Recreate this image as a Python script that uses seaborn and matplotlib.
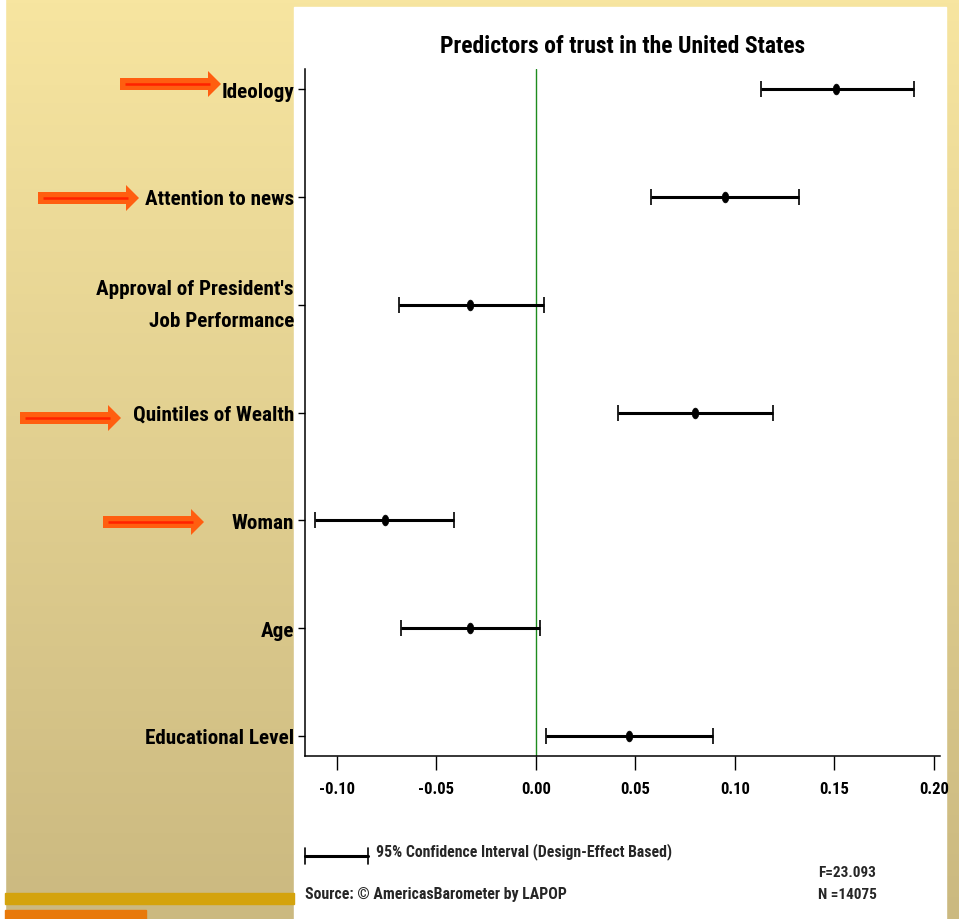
import numpy as np
import matplotlib.pyplot as plt
import seaborn as sns
import pandas as pd
from matplotlib import font_manager
from matplotlib.path import Path
from matplotlib.patches import Rectangle, FancyArrow
from matplotlib.ticker import FormatStrFormatter

# values
predictors = [
    "Ideology",
    "Attention to news",
    "Approval of President's\nJob Performance",
    "Quintiles of Wealth",
    "Woman",
    "Age",
    "Educational Level",
]
coef = [0.151, 0.095, -0.033, 0.080, -0.076, -0.033, 0.047]
ci_low = [0.113, 0.058, -0.069, 0.041, -0.111, -0.068, 0.005]
ci_high = [0.190, 0.132, 0.004, 0.119, -0.041, 0.002, 0.089]
x_ticks = [-0.10, -0.05, 0.00, 0.05, 0.10, 0.15, 0.20]
highlighted = ["Ideology", "Attention to news", "Quintiles of Wealth", "Woman"]

title = "Predictors of trust in the United States"
ci_note = "95% Confidence Interval (Design-Effect Based)"
source_note = "Source: \u00a9 AmericasBarometer by LAPOP"
stats_note = "F=23.093\nN =14075"

# pick a narrow face if one is around
installed = {f.name for f in font_manager.fontManager.ttflist}
narrow = [f for f in ["Roboto Condensed", "Liberation Sans Narrow",
                      "Liberation Sans"] if f in installed]

sns.set_style("white")
plt.rcParams["font.family"] = narrow[:1] + ["DejaVu Sans"]
plt.rcParams["axes.unicode_minus"] = False
WEIGHT = "bold"

df = pd.DataFrame({"predictor": predictors, "coef": coef,
                   "lo": ci_low, "hi": ci_high})

W, H = 959, 920
fig = plt.figure(figsize=(W / 100, H / 100), dpi=100)

# slide background in pixel coordinates
bg = fig.add_axes([0, 0, 1, 1], zorder=0)
top_col = np.array([247, 229, 160]) / 255
bot_col = np.array([203, 185, 128]) / 255
t = np.linspace(0, 1, 256)[:, None, None]
grad = (top_col * (1 - t) + bot_col * t) * np.ones((1, 2, 1))
bg.imshow(grad, extent=[0, W, H, 0], aspect="auto")
bg.set_xlim(0, W)
bg.set_ylim(H, 0)
bg.axis("off")
bg.add_patch(Rectangle((0, 0), 5, H, color="white"))
bg.add_patch(Rectangle((294, 8), 652, H - 8, color="white"))
bg.add_patch(Rectangle((5, 894), 289, 11, color="#D4A30C"))
bg.add_patch(Rectangle((5, 911), 141, 9, color="#E8790B"))

# orange arrows pointing at the highlighted predictors
arrows = {"Ideology": (120, 85), "Attention to news": (38, 199),
          "Quintiles of Wealth": (20, 419), "Woman": (103, 523)}
for name in highlighted:
    x0, y0 = arrows[name]
    bg.add_patch(FancyArrow(x0, y0, 101, 0, width=12, head_width=26,
                            head_length=13, length_includes_head=True,
                            color="#FF5E10", lw=0))
    bg.plot([x0 + 5, x0 + 90], [y0, y0], color="#FF2200", lw=1.8,
            solid_capstyle="butt")

# tall oval marker for the point estimates
ang = np.linspace(0, 2 * np.pi, 40)
oval = Path(np.column_stack([0.6 * np.cos(ang), np.sin(ang)]), closed=True)

# main coefficient plot
ax = fig.add_axes([305 / W, 1 - 757 / H, (940 - 305) / W, (757 - 70) / H],
                  zorder=1)
ax.patch.set_alpha(0)
ypos = np.arange(len(df))
ax.axvline(0, color="#1E8C1E", lw=1.0, zorder=1)
ax.errorbar(df["coef"], ypos,
            xerr=[df["coef"] - df["lo"], df["hi"] - df["coef"]],
            fmt="none", ecolor="black", elinewidth=2.2, capsize=5.5,
            capthick=1.2, zorder=2)
sns.scatterplot(x=df["coef"], y=ypos, ax=ax, color="black", s=60,
                marker=oval, edgecolor="black", linewidth=0.5, zorder=3)

ax.set_xlim(-0.116, 0.203)
ax.set_ylim(len(df) - 1 + 0.186, -0.186)
ax.set_yticks(ypos)
ax.set_yticklabels(df["predictor"], fontsize=15.2, ha="right",
                   multialignment="right", linespacing=1.9,
                   fontweight=WEIGHT)
for lab in ax.get_yticklabels():
    if "\n" in lab.get_text():
        lab.set_va("center")
ax.set_xticks(x_ticks)
ax.xaxis.set_major_formatter(FormatStrFormatter("%.2f"))
ax.tick_params(axis="x", labelsize=12, length=10, width=1, pad=8,
               direction="out", bottom=True, colors="black")
ax.tick_params(axis="y", length=5, width=1, pad=3, direction="out",
               left=True, colors="black")
for lab in ax.get_xticklabels():
    lab.set_fontweight(WEIGHT)
ax.set_xlabel("")
ax.set_ylabel("")
for side in ["top", "right"]:
    ax.spines[side].set_visible(False)
for side in ["left", "bottom"]:
    ax.spines[side].set_color("black")
    ax.spines[side].set_linewidth(1.1)
ax.set_title(title, fontsize=17, pad=12, color="black", fontweight=WEIGHT)

# notes under the chart
bg.plot([305, 368], [857, 857], color="black", lw=2.2)
bg.plot([305, 305], [849, 865], color="black", lw=1.2)
bg.plot([368, 368], [849, 865], color="black", lw=1.2)
bg.text(376, 852, ci_note, fontsize=11.3, va="center", ha="left",
        fontweight=WEIGHT)
bg.text(305, 895, source_note, fontsize=11.4, va="center", ha="left",
        fontweight=WEIGHT)
bg.text(818, 884, stats_note, fontsize=11, va="center", ha="left",
        linespacing=1.75, fontweight=WEIGHT)

fig.savefig("out.png", dpi=100)
